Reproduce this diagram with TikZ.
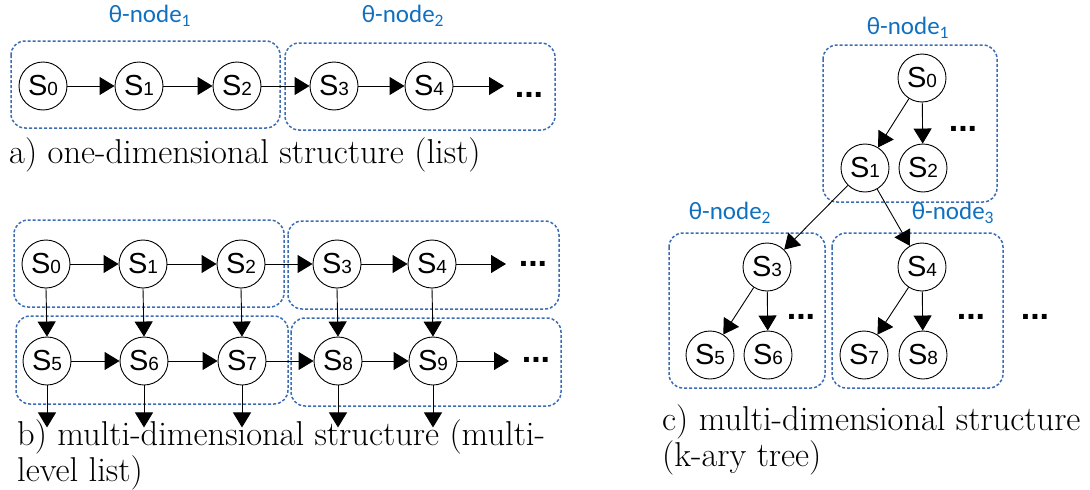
\documentclass[tikz,border=0pt]{standalone}
\usepackage{fontspec}
\newfontfamily\statefont{Liberation Sans}
\newfontfamily\labelfont{Carlito}
\usetikzlibrary{arrows.meta}
\definecolor{grpline}{HTML}{3C6DB4}
\definecolor{grptext}{HTML}{1070C0}
\newcommand\stlabel[1]{S{\fontsize{19}{19}\selectfont #1}}
\newcommand\thetalabel[1]{θ-node\textsubscript{#1}}
\tikzset{
  state/.style={circle, draw, line width=0.9pt, minimum size=48pt, inner sep=0pt,
    font=\statefont\fontsize{29}{29}\selectfont},
  group/.style={draw=grpline, line width=1.5pt, dash pattern=on 3pt off 2pt, rounded corners=14pt},
  grouplabel/.style={text=grptext, font=\labelfont\fontsize{25}{25}\selectfont, inner sep=0pt},
  link/.style={-{Triangle[length=15pt,width=18pt]}, line width=0.9pt},
  more/.style={font=\statefont\bfseries\fontsize{34}{34}\selectfont, inner sep=0pt},
  caption/.style={font=\fontsize{34.5}{33}\selectfont, inner sep=0pt, anchor=base west, align=left}
}
\begin{document}
\begin{tikzpicture}[x=1pt, y=-1pt]
\useasboundingbox (0,0) rectangle (1090,490);

% ---------- a) list ----------
\draw[group] (11,41) rectangle (280,128);
\draw[group] (285,43) rectangle (555,130);
\node[grouplabel] (ta1) at (150,16) {\thetalabel{1}};
\node[grouplabel] (ta2) at (403,16) {\thetalabel{2}};
\node[state] (a0) at (43,86) {\stlabel{0}};
\node[state] (a1) at (139,86) {\stlabel{1}};
\node[state] (a2) at (237,86) {\stlabel{2}};
\node[state] (a3) at (334,86) {\stlabel{3}};
\node[state] (a4) at (429,86) {\stlabel{4}};
\coordinate (aend) at (504,86);
\node[more] (adots) at (529,95) {...};
\draw[link] (a0) -- (a1);
\draw[link] (a1) -- (a2);
\draw[link] (a2) -- (a3);
\draw[link] (a3) -- (a4);
\draw[link] (a4) -- (aend);
\node[caption] (capa) at (9,163) {a) one-dimensional structure (list)};

% ---------- b) multi-level list ----------
\draw[group] (14,220) rectangle (284,307);
\draw[group] (288,221) rectangle (559,309);
\draw[group] (16,316) rectangle (288,404);
\draw[group] (291,318) rectangle (561,406);
\foreach \i/\x in {0/46,1/143,2/241,3/337,4/432}
  \node[state] (b\i) at (\x,264) {\stlabel{\i}};
\foreach \i/\x in {5/47,6/144,7/242,8/338,9/433}
  \node[state] (b\i) at (\x,361) {\stlabel{\i}};
\coordinate (bend1) at (506,264);
\coordinate (bend2) at (509,361);
\node[more] (bdots1) at (533,264) {...};
\node[more] (bdots2) at (536,360) {...};
\draw[link] (b0) -- (b1);
\draw[link] (b1) -- (b2);
\draw[link] (b2) -- (b3);
\draw[link] (b3) -- (b4);
\draw[link] (b4) -- (bend1);
\draw[link] (b5) -- (b6);
\draw[link] (b6) -- (b7);
\draw[link] (b7) -- (b8);
\draw[link] (b8) -- (b9);
\draw[link] (b9) -- (bend2);
\foreach \u/\l in {0/5,1/6,2/7,3/8,4/9}
  \draw[link] (b\u.south) -- (b\l.north);
\foreach \l in {5,6,7,8,9} {
  \coordinate (bdown\l) at ([yshift=-42pt]b\l.south);
  \draw[link] (b\l.south) -- (bdown\l);
}
% two-line captions: the base anchor sits on the last line
\node[caption] (capb) at (17,481) {b) multi-dimensional structure (multi-\\level list)};

% ---------- c) k-ary tree ----------
\draw[group] (823,45) rectangle (997,202);
\draw[group] (669,233) rectangle (825,388);
\draw[group] (832,233) rectangle (1003,388);
\node[grouplabel] (tc1) at (908,28) {\thetalabel{1}};
\node[grouplabel] (tc2) at (730,213) {\thetalabel{2}};
\node[grouplabel] (tc3) at (953,213) {\thetalabel{3}};
\node[state] (c0) at (922,78) {\stlabel{0}};
\node[state] (c1) at (865,168) {\stlabel{1}};
\node[state] (c2) at (923,168) {\stlabel{2}};
\node[state] (c3) at (767,267) {\stlabel{3}};
\node[state] (c4) at (922,267) {\stlabel{4}};
\node[state] (c5) at (710,355) {\stlabel{5}};
\node[state] (c6) at (768,355) {\stlabel{6}};
\node[state] (c7) at (864,355) {\stlabel{7}};
\node[state] (c8) at (923,355) {\stlabel{8}};
\node[more] (cdots1) at (963,129) {...};
\node[more] (cdots2) at (801,317) {...};
\node[more] (cdots3) at (971,317) {...};
\node[more] (cdots4) at (1035,317) {...};
\draw[link] (c0) -- (c1);
\draw[link] (c0) -- (c2);
\draw[link] (c1) -- (c3);
\draw[link] (c1) -- (c4);
\draw[link] (c3) -- (c5);
\draw[link] (c3) -- (c6);
\draw[link] (c4) -- (c7);
\draw[link] (c4) -- (c8);
\node[caption] (capc) at (662,466) {c) multi-dimensional structure\\(k-ary tree)};
\end{tikzpicture}
\end{document}
